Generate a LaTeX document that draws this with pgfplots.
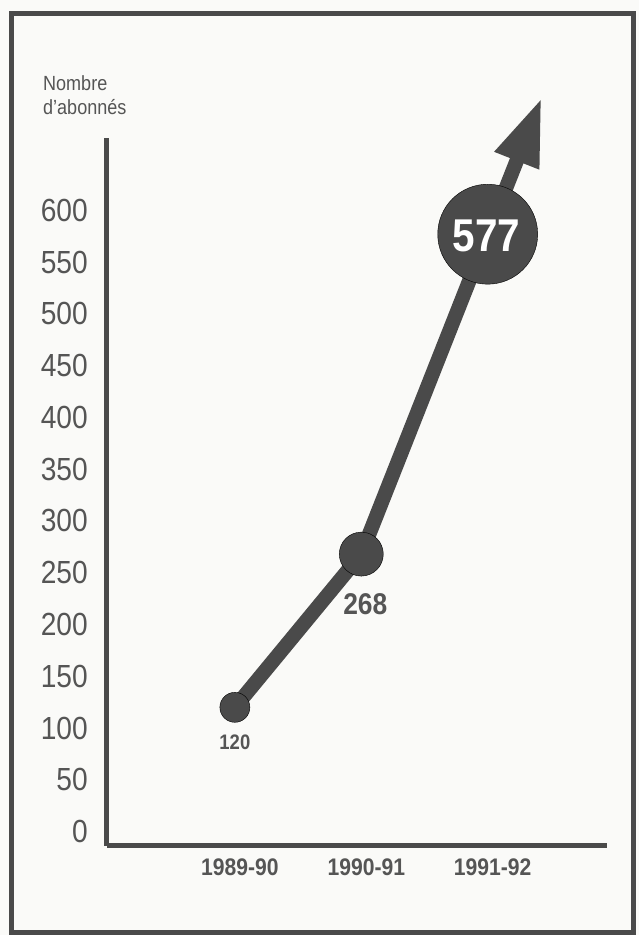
\documentclass[border=0pt]{standalone}
\usepackage{fontspec}
\setmainfont[FakeStretch=0.88]{Liberation Sans}
\usepackage{pgfplots}
\pgfplotsset{compat=1.18}
\usetikzlibrary{arrows.meta}
\definecolor{dk}{HTML}{4A4A4A}
\definecolor{tx}{HTML}{555555}
\definecolor{bg}{HTML}{FAFAF8}
\begin{document}
\begin{tikzpicture}[x=1pt,y=1pt]
\fill[bg] (0,0) rectangle (639,935);
\draw[dk, line width=5pt] (12,2) rectangle (634,921);
\node[anchor=west, align=left, text=tx, font=\fontsize{20.5}{24}\selectfont, inner sep=0pt] at (43,840) {Nombre\\d'abonnés};
\begin{axis}[
  at={(107pt,89pt)}, anchor=south west,
  scale only axis, width=500pt, height=708pt,
  xmin=-1.012, xmax=2.941, ymin=-13.5, ymax=670,
  axis x line*=bottom, axis y line*=left,
  axis line style={dk, line width=5pt},
  xtick={0,1,2}, xticklabels={1989-90,1990-91,1991-92},
  ytick={0,50,...,600},
  major tick length=0pt,
  tick style={draw=none},
  /pgf/number format/assume math mode=true,
  yticklabel style={anchor=east, inner sep=0pt, xshift=-19pt, font=\fontsize{32}{32}\selectfont, text=tx},
  xticklabel style={anchor=north, inner sep=0pt, yshift=-13.5pt, xshift=5pt, font=\bfseries\fontsize{24}{24}\selectfont, text=tx},
  clip=false,
]
\addplot[dk, line width=14.5pt, line join=round, -{Triangle[length=68pt,width=44pt]}] coordinates {(0,120) (1,268) (2,577) (2.427,709)};
\addplot[only marks, mark=*, mark size=15pt, mark options={draw=none, fill=dk}] coordinates {(0,120)};
\addplot[only marks, mark=*, mark size=22pt, mark options={draw=none, fill=dk}] coordinates {(1,268)};
\addplot[only marks, mark=*, mark size=50pt, mark options={draw=none, fill=dk}] coordinates {(2,577)};
\node[text=tx, font=\bfseries\fontsize{21}{21}\selectfont, yshift=-35pt] at (axis cs:0,120) {120};
\node[text=tx, font=\bfseries\fontsize{30}{30}\selectfont, xshift=4pt, yshift=-50pt] at (axis cs:1,268) {268};
\coordinate (p3) at (axis cs:2,577);
\end{axis}
\node[text=white, font=\bfseries\fontsize{46}{46}\selectfont, xshift=-1pt, yshift=-2pt] at (p3) {577};
\end{tikzpicture}
\end{document}
